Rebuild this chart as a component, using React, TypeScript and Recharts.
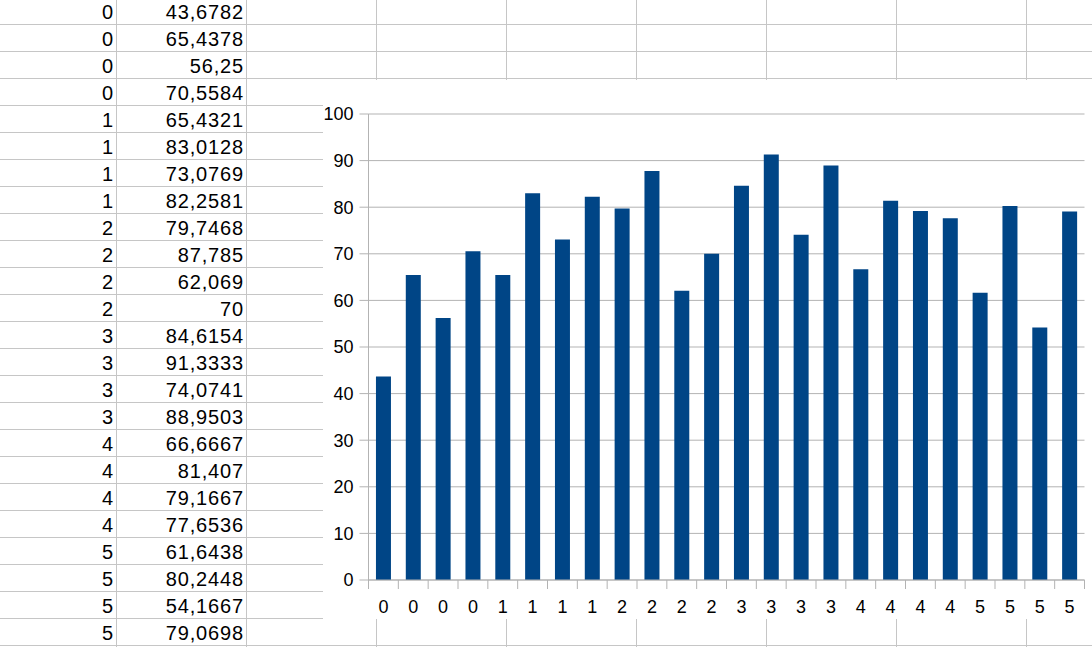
import { BarChart, Bar, XAxis, YAxis, CartesianGrid } from 'recharts';

// column A of the sheet (also the x categories)
const groups = ['0', '0', '0', '0', '1', '1', '1', '1', '2', '2', '2', '2', '3', '3', '3', '3', '4', '4', '4', '4', '5', '5', '5', '5'];
// column B of the sheet (bar heights)
const values = [
  43.6782, 65.4378, 56.25, 70.5584, 65.4321, 83.0128, 73.0769, 82.2581, 79.7468, 87.785, 62.069, 70,
  84.6154, 91.3333, 74.0741, 88.9503, 66.6667, 81.407, 79.1667, 77.6536, 61.6438, 80.2448, 54.1667, 79.0698,
];
const yTicks = [0, 10, 20, 30, 40, 50, 60, 70, 80, 90, 100];

const data = values.map((v, i) => ({ group: groups[i], value: v }));

const FONT = '"Liberation Sans", Arial, sans-serif';
const BAR = '#004586';
const GRID = '#b3b3b3';
const SHEET_LINE = '#c6c6c6';
const TICK_SIZE = 9;

// sheet geometry
const ROW_H = 27;
const COL_W = 130;
const FIRST_ROW_LINE = 24.5;
const FIRST_COL_LINE = 116.5;

function Sheet() {
  const rowLines = Array.from({ length: 24 }, (_, i) => FIRST_ROW_LINE + ROW_H * i);
  const colLines = Array.from({ length: 8 }, (_, j) => FIRST_COL_LINE + COL_W * j);
  const cellText = { fontSize: 20, fontFamily: FONT, fill: '#000', letterSpacing: 0.85 };
  return (
    <svg width={1092} height={647} style={{ position: 'absolute', left: 0, top: 0 }}>
      {rowLines.map((y) => (
        <line key={'r' + y} x1={0} x2={1092} y1={y} y2={y} stroke={SHEET_LINE} strokeWidth={1} />
      ))}
      {colLines.map((x) => (
        <line key={'c' + x} x1={x} x2={x} y1={0} y2={647} stroke={SHEET_LINE} strokeWidth={1} />
      ))}
      {groups.map((g, i) => (
        <text key={'a' + i} x={FIRST_COL_LINE - 2.5} y={FIRST_ROW_LINE - 5.2 + ROW_H * i} textAnchor="end" {...cellText}>
          {g}
        </text>
      ))}
      {values.map((v, i) => (
        <text key={'b' + i} x={FIRST_COL_LINE + COL_W - 2.5} y={FIRST_ROW_LINE - 5.2 + ROW_H * i} textAnchor="end" {...cellText}>
          {String(v).replace('.', ',')}
        </text>
      ))}
    </svg>
  );
}

// x tick: label at band centre, tick marks on band boundaries
const XTick = (props: any) => {
  const { x, y, payload, index, visibleTicksCount, width } = props;
  const half = payload.offset ?? width / visibleTicksCount / 2;
  const top = y - TICK_SIZE;
  return (
    <g>
      <line x1={x - half} x2={x - half} y1={top} y2={top + TICK_SIZE} stroke={GRID} />
      {index === visibleTicksCount - 1 && (
        <line x1={x + half} x2={x + half} y1={top} y2={top + TICK_SIZE} stroke={GRID} />
      )}
      <text x={x} y={y + 23.7} textAnchor="middle" fontSize={18} fontFamily={FONT} fill="#000">
        {payload.value}
      </text>
    </g>
  );
};

export default function App() {
  return (
    <div style={{ position: 'absolute', left: 0, top: 0, width: 1092, height: 647, overflow: 'hidden', background: '#fff', fontFamily: FONT }}>
      <Sheet />
      <div style={{ position: 'absolute', left: 323, top: 80, width: 769, height: 539, background: '#fff' }}>
        <BarChart width={769} height={539} data={data} margin={{ top: 34, right: 7.5, bottom: 0, left: 0 }} barCategoryGap="25%">
          <CartesianGrid vertical={false} stroke={GRID} />
          <XAxis
            dataKey="group"
            interval={0}
            tickLine={false}
            tickSize={TICK_SIZE}
            tickMargin={0}
            height={39}
            axisLine={{ stroke: GRID }}
            tick={<XTick />}
          />
          <YAxis
            domain={[0, 100]}
            ticks={yTicks}
            width={45.5}
            tickSize={TICK_SIZE}
            tickMargin={6}
            tickLine={{ stroke: GRID }}
            axisLine={{ stroke: GRID }}
            tick={{ fill: '#000', fontSize: 18, fontFamily: FONT }}
          />
          <YAxis yAxisId="frame" orientation="right" width={0} domain={[0, 100]} tick={false} tickLine={false} axisLine={{ stroke: GRID }} />
          <Bar dataKey="value" fill={BAR} isAnimationActive={false} />
        </BarChart>
      </div>
    </div>
  );
}
